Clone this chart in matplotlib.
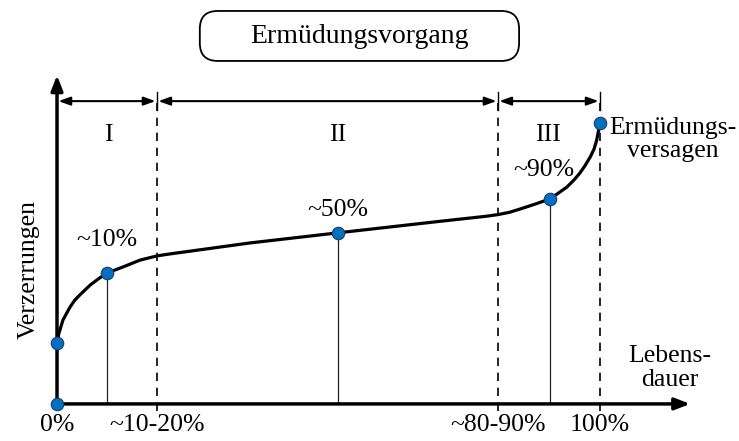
import numpy as np
import matplotlib
matplotlib.use("Agg")
from matplotlib import pyplot as plt
from matplotlib.patches import FancyBboxPatch

plt.rcParams['font.family'] = ['Liberation Serif', 'DejaVu Serif']

# curve (life in %, strain in arbitrary units)
life = [0, 0.37, 1.1, 2.4, 3.3, 4.2, 6.1, 7.6, 9.2, 12.2, 15.3, 18.4, 20.8, 35.5,
        51.7, 70.5, 79.0, 81.2, 83.3, 85.3, 88.0, 90.8, 92.3, 93.9, 95.2, 96.3, 97.2, 98.2, 98.9, 99.4, 100]
strain = [21.7, 25.3, 29.9, 34.5, 37.0, 38.8, 42.3, 44.5, 46.6, 48.8, 51.2, 52.7, 53.4, 57.3,
          60.9, 65.0, 66.8, 67.4, 68.2, 69.4, 71.1, 73.0, 75.0, 77.2, 79.7, 82.2, 84.7, 87.9, 90.7, 94.0, 100]

# marked points
pt_life = [0, 0, 9.2, 51.7, 90.8, 100]
pt_strain = [0, 21.7, 46.6, 60.9, 73.0, 100]
pt_labels = ["", "", "~10%", "~50%", "~90%", ""]

# phase borders and names
borders = [0, 18.4, 81.2, 100]
phases = ["I", "II", "III"]
phase_x = [9.4, 51.7, 90.4]
tick_pos = [0, 18.4, 81.2, 100]
tick_labels = ["0%", "~10-20%", "~80-90%", "100%"]

blue = "#0070C0"
fs = 18.5

fig = plt.figure(figsize=(7.39, 4.41), dpi=100)
ax = fig.add_axes([0, 0, 1, 1])
ax.set_xlim(-10.5, 125.6)
ax.set_ylim(-13.2, 143.8)
ax.axis("off")

# axes with arrows
ax.annotate("", xy=(116.6, 0), xytext=(0, 0),
            arrowprops=dict(arrowstyle="-|>,head_length=0.9,head_width=0.35", lw=2.5, color="k",
                            shrinkA=0, shrinkB=0))
ax.annotate("", xy=(0, 117), xytext=(0, 0),
            arrowprops=dict(arrowstyle="-|>,head_length=0.9,head_width=0.35", lw=2.5, color="k",
                            shrinkA=0, shrinkB=0))

# dashed phase borders
for b in borders[1:]:
    ax.plot([b, b], [-2.5, 107], ls=(0, (5, 4)), color="k", lw=1.2)

# phase arrows
y_arr = 107.8
for i in range(3):
    a, b = borders[i], borders[i + 1]
    ax.annotate("", xy=(b, y_arr), xytext=(a, y_arr),
                arrowprops=dict(arrowstyle="<|-|>,head_length=0.7,head_width=0.25", lw=1.5, color="k",
                                shrinkA=1, shrinkB=1))
    ax.text(phase_x[i], 95.7, phases[i], fontsize=fs, ha="center", va="center")
for b in borders[1:]:
    ax.plot([b, b], [104.5, 111], color="k", lw=1.0)

# thin drop lines
for x, y in zip(pt_life[2:5], pt_strain[2:5]):
    ax.plot([x, x], [0, y], color="#222222", lw=0.9)

ax.plot(life, strain, color="k", lw=2.3, solid_capstyle="round", solid_joinstyle="round")
ax.plot(pt_life, pt_strain, "o", color=blue, mec="#1f3b73", mew=0.8, ms=9, zorder=5)

label_y = {"~10%": 58.4, "~50%": 69.0, "~90%": 83.3}
label_x = {"~10%": 9.2, "~50%": 51.7, "~90%": 89.6}
for lab in pt_labels:
    if lab:
        ax.text(label_x[lab], label_y[lab], lab, fontsize=fs, ha="center", va="center")

for x, lab in zip(tick_pos, tick_labels):
    ax.text(x, -7.5, lab, fontsize=fs, ha="center", va="center")

ax.text(113.4, 94, "Ermüdungs-\nversagen", fontsize=fs, ha="center", va="center",
        multialignment="center", linespacing=1.05)
ax.text(112.9, 12.8, "Lebens-\ndauer", fontsize=fs, ha="center", va="center",
        multialignment="center", linespacing=1.15)
ax.text(-5.2, 47.7, "Verzerrungen", fontsize=fs, ha="center", va="center", rotation=90)

# title box
box = FancyBboxPatch((26.3, 122.1), 85.1 - 26.3, 139.9 - 122.1,
                     boxstyle="round,pad=0,rounding_size=3.3", mutation_aspect=1.93,
                     fc="white", ec="k", lw=1.3)
ax.add_patch(box)
ax.text(55.7, 130.8, "Ermüdungsvorgang", fontsize=20, ha="center", va="center")

fig.savefig("out.png", dpi=100)
